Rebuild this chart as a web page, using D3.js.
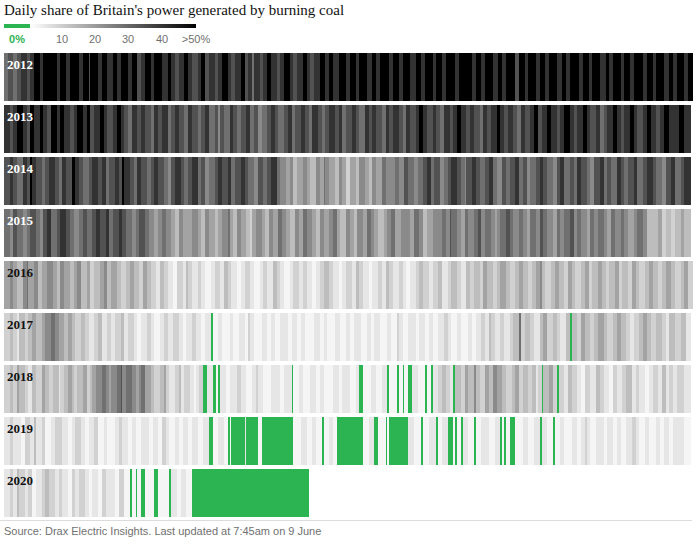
<!DOCTYPE html>
<html><head><meta charset="utf-8">
<script src="https://cdn.jsdelivr.net/npm/d3@7"></script>
<style>body{margin:0;background:#fff}</style></head>
<body><svg id="c" width="698" height="546"></svg>
<script>
// Data: run-length strings, letter = coal share level, number = days
const years = ["2012","2013","2014","2015","2016","2017","2018","2019","2020"];
const levelValues = {a:0,b:2,c:5,d:9,e:13,f:18,g:23,h:28,i:34,j:40,k:50};
const yearDays = [366,365,365,365,366,365,365,365,162];
const legendTicks = ["0%","10","20","30","40",">50%"];
const runs2012 = "h2i3h2i2j3i2j2k3j2k3k4j2k3j2k5j2k3i1k4j2k3j3k2j2k4j2k3i2j2k3j2k4j3k2j2i2j3k2j2i3j2k2i2j3i2j2k3j2i2j3k2i2j2h1j3i2j2k2j3i2j2k3j2i2j3k2j2i2j3k3j2k2j3k4j2k3j2k4j3k2j2k5j2k3j2k4j3k3j2k4j2k3j2k5j2k3k4j2k3j2k4j3k2j2k5i2k3j2k4j2k3j2k4j3k2j2k5j2k3j2k4j3k2j2k4j2k3j2k5j2k3j2k4j3k2j2k4j2k3j3k5j2k4";
const runs2013 = "j3i2j2k3j2i2k2j3k2j2i2k3j2k2j3i2j2k3j2k2i2j3k2j2i3j2k2j2i2h2j3i2j2i3h2j2i2j3h2i2j2i3h2j2i3h2i2j2h3i2g1i2h3j2i2h2i3j2h2i2g2h3i2j2i2h3i2j2h2i3j2i2h2j3i2h2i2j3i2j2h2i3j2i2h3j2i2j2i3h2j2i2j3i2h2j2i3j2k2j2i3j2i2h2j3i2j2k2j3i2j2i3h2j2i2j3k2j2i2j3i2h2j2i3j2k2i2j3k2j3i2j2k3j2i2j3k2j2i3j2h2i2j3k2j2i2j3k2j2i3j2k2j3i2j2k3j2j3k3j3k4j3";
const runs2014 = "i3j2i2h3j2i2k1j2i3h2i2j3i2h2j2i3k2j2i2h3i2j3i2j2h2i3j2i2k1j3i2h2j2i3h2i2j2i3h2g2i2j3i2h2i2j3h2i2g2h3i2j2i3j2h2i3j2i2h3g2i3h2i2j3h2g3f2g2e2f3g2f2e3g2f2h1g2f3e2g2f2d2f3e2g3f2e2g2f3h2g2g3h2g3i2h3g2h3i2j2h2i3g2h2i2j3i2h2g1i3j2i2h3i2j2h2g3i2h2i3j2h2i2g2h3i2j2i2h3g2i2j2h3i2h2j2i3h2g2i3j2h2i2h3j2i2h2i3j2h3i2j3i2h3g2i3j2h3i2j3";
const runs2015 = "h3g2i2h3g2h2i3h2g2i2j2h3i2j3i2h2g3h2i2h3i2j2i3j2h2i3j2i2h3g2h2i3h2g3f2g2h2g3f2e2g2f3f2g3f2e2g2f3e2f2g3h1f2e2g2f3e2d1f2g3f2e2g2f3h2g2f2e3g2f2h2g3f2e2g2f3g2h2f2e3g2f2e2g3f2h2g2f2e3f2g2h2f3g2g3f2h3g2e2f3g2g3h2g2i1h3g2f2h2g3h2i2g2h3g2f1g2h3i2h2g3h2g2f2h3g2i2h2g3f2h2g2h3i2g2h2g3f2h2g2h3g2f2h2g3h2g2f3g2h3g2e3e3f2d2e3d2e3f2e3";
const runs2016 = "f3g2f2e3g2h1f3g2e2f3g3f2e2g2f3e2f2g2e3f2d2e3f2g2e2f3e2d3e2f2e3d2f2e2d3c2e2d2c3b2d3c2e1d2c3d2c2b3c2d3c2e2d2c3b2c2d3c2b3c2d2c3e2d2c2b3c2d3c2d2c3b2c2d2e3d2c3b2c2d3c2e2d2c3b2c3d2c2e2d2c3d2c2b2c3d2e2d3c2d3e2c3d2e3d2c3e2d2e3d2f2e3d2e2f3e2d3e2f2e3d2e2f2g1e2d3e2f2e3d2f2e2d3e2f2d2e3f2e2d2e3f2d2e3d2f2e2d3e2f2e3d2e2f3e2d3e2f2d2";
const runs2017 = "d3e2d2c1e3d2e2f2e3f2g3h2g2f3e2f2e2d3e2d2c3d2e2c3d2c2d3e2c2d3c2b2c3d2c2b3c2d2c3d3c2b2c3d2c3b2c3a1b3c2b4c2b3c3b2d1c2b4c3b2c2b3c4b2c3b2c2b5c3b2c2b4c3b3c2b2c4b3c2b2c3b4c2b3d1c2b3c4b2c3b2c2b3c3d2c2b3c2b4c2b2c3d2c2e1d2c3d2c3d2e3h1d2e3d2c3e2f2d3e2d2c3e2a1e3d2f2e3d2e2f3e2d3e2f2e3d2c2d3e2f2e2d3e3d2c2e3d3e3c2";
const runs2018 = "d3e2d2f1e3d2c2e2d3f2e2d2e3c1d2e2f2e1d2e3f2d2e1f2g3h2g2f1g3h2i1g2h3g2f2g1h2f3e2d3e2f1d2c3d2e1c2d3c2b1c2d2a2c3a2b1a1c3b2c4d2c3b3c2d1c3b4c2c3b2c4a1b3c2b4c3b2c2b5c3b2c4b3c2a2b4c3b3c3a1b4a1b2a1b2a2c3b4a1b2a1c3d2e2d2c2a1e3d2f2e3g1e2d3f2e2g2f3e2d3e2f2d2e3d2e2c1d2a1e3f2d2a1d3c2e2d3c2b2d3c3e2d2c3b2d2c3d2e3c2d2c3b2c2d3c2e2c2d2c2d4c3";
const runs2019 = "c3d2c4b2d3c2e1c3d2b3c2d4c3b2c2d3c2b2c3d2b3c2b4c2d2c3b2c2b3c4b2c3b2d2c2b3c2b2c3b2c3b3c3a2b3c3b2a1b1a7c1a6b2a17b4c3b3c2b3a1b3c2b2a14b3c3a2b4a1b1a10c3b4a1b3c4a1b2c3a3b1a1b2a1c3b3a1b3c4b3c3a1b1a1b2a3b4c3b3c3a1c3b3a1b3c2b4c3b2c2d1c2b3c4b2c3b2c2b3c3d2c2b3c2b4c2b2c3b2c2c4b3";
const runs2020 = "c3d2c2e1d3c2d2b2c3d2e2d3c2d2c3b2d2c2d3c2b2c3b2d2c2c3b2d3b3a1b2a1b2a2b5a2b6a1c3b2c3b3a62";
const yearRuns = [runs2012,runs2013,runs2014,runs2015,runs2016,runs2017,runs2018,runs2019,runs2020];

function expand(s, n){
  const out=[]; const re=/([a-k])(\d+)/g; let m;
  while((m=re.exec(s))){ for(let k=0;k<+m[2];k++) out.push(levelValues[m[1]]); }
  return out.slice(0,n);
}
const svg=d3.select("#c");
const green="#2cb352";
const x=d3.scaleLinear().domain([0,366]).range([4,692]);
const y=d3.scaleBand().domain(years).range([53,517]).paddingInner(4/52);
const gray=d3.scaleLinear().domain([0,50]).range(["#ffffff","#000000"]).clamp(true);
const color=v=>v===0?green:gray(v);

svg.append("text").attr("x",4).attr("y",15).attr("font-family","Liberation Serif, serif")
  .attr("font-size",15).attr("fill","#121212").text("Daily share of Britain's power generated by burning coal");

const lx=d3.scaleLinear().domain([0,50]).range([30,196]);
const lg=svg.append("defs").append("linearGradient").attr("id","lg");
lg.append("stop").attr("offset","0%").attr("stop-color","#fff");
lg.append("stop").attr("offset","100%").attr("stop-color","#000");
svg.append("rect").attr("x",4).attr("y",24).attr("width",lx(0)-4).attr("height",4).attr("fill",green);
svg.append("rect").attr("x",lx(0)).attr("y",24).attr("width",lx(50)-lx(0)).attr("height",4).attr("fill","url(#lg)");
const lxl=d3.scaleOrdinal().domain(legendTicks).range([17,62,95,128,162,196]);
svg.selectAll("text.lt").data(legendTicks).enter().append("text").attr("class","lt")
  .attr("x",d=>lxl(d)).attr("y",43).attr("text-anchor","middle")
  .attr("font-family","Liberation Sans, Arial, sans-serif").attr("font-size",11)
  .attr("font-weight",(d,i)=>i===0?"bold":"normal")
  .attr("fill",(d,i)=>i===0?green:"#707070").text(d=>d);

years.forEach((yr,i)=>{
  const vals=expand(yearRuns[i],yearDays[i]);
  const g=svg.append("g").attr("shape-rendering","crispEdges");
  g.selectAll("rect").data(vals).enter().append("rect")
    .attr("x",(d,j)=>x(j)).attr("width",(d,j)=>x(j+1)-x(j)+0.5)
    .attr("y",y(yr)).attr("height",y.bandwidth())
    .attr("fill",d=>color(d));
  svg.append("text").attr("x",7).attr("y",y(yr)+16).attr("font-family","Liberation Serif, serif")
    .attr("font-weight","bold").attr("font-size",13)
    .attr("fill",i<4?"#fff":"#121212").text(yr);
});

svg.append("line").attr("x1",0).attr("x2",692).attr("y1",520.5).attr("y2",520.5).attr("stroke","#dcdcdc");
svg.append("text").attr("x",4).attr("y",535).attr("font-family","Liberation Sans, Arial, sans-serif")
  .attr("font-size",11).attr("fill","#707070").text("Source: Drax Electric Insights. Last updated at 7:45am on 9 June");
</script></body></html>
